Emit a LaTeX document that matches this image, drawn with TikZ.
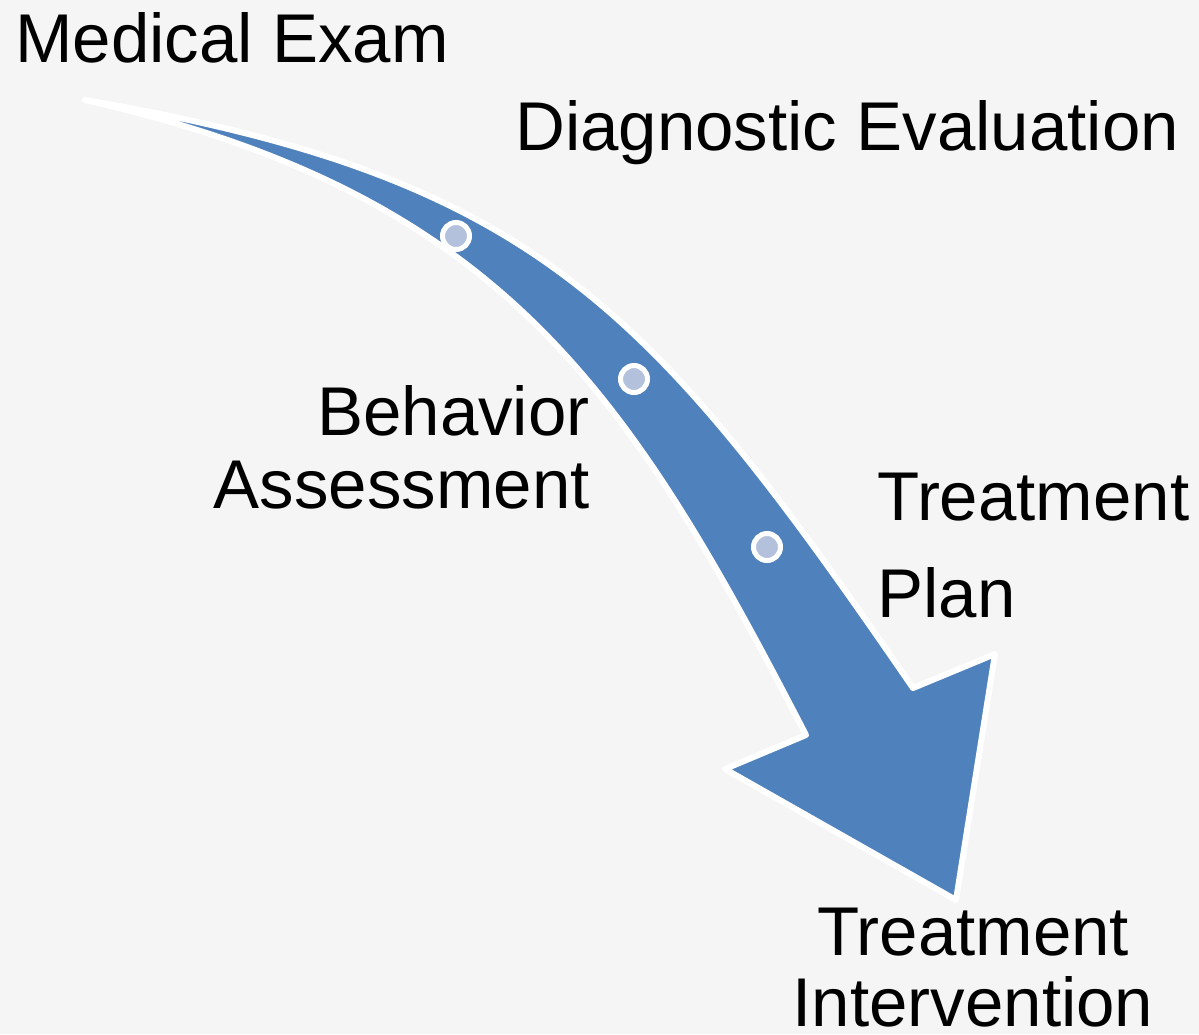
\documentclass[tikz,border=0pt]{standalone}
\usepackage{fontspec}
\setmainfont{Liberation Sans}
\definecolor{bgcol}{HTML}{F5F5F5}
\definecolor{arrowblue}{HTML}{4F81BD}
\definecolor{dotfill}{HTML}{B3C1DC}

\begin{document}
\begin{tikzpicture}[x=0.5pt, y=-0.5pt,
  label/.style={inner sep=0pt, font=\fontsize{34.5}{36.5}\selectfont},
  body/.style={fill=arrowblue, draw=white, line width=3pt, line join=round},
  dot/.style={circle, inner sep=0pt, minimum size=13.5pt, fill=dotfill, draw=white, line width=2.5pt}]

  % Background
  \path[use as bounding box, fill=bgcol] (0,0) rectangle (1199,1034);

  % Arrow corners
  \coordinate (tail) at (85,100);
  \coordinate (R1) at (913,688);
  \coordinate (R2) at (995,654);
  \coordinate (tip) at (956,900);
  \coordinate (L2) at (725,769);
  \coordinate (L1) at (806,735);

  % Curved arrow
  \path[body] (tail) .. controls (535,177) and (650,305) .. (R1) -- (R2) -- (tip)
    -- (L2) -- (L1) .. controls (630,395) and (505,195) .. (tail) -- cycle;

  % Dots on the arrow
  \node[dot] (D1) at (456,236) {};
  \node[dot] (D2) at (634,379) {};
  \node[dot] (D3) at (767,547) {};

  % Labels
  \node[label, anchor=base west] (exam) at (15,62) {Medical Exam};
  \node[label, anchor=base west] (diag) at (515,150) {Diagnostic Evaluation};
  \node[label, anchor=base east] (beh1) at (590,435) {Behavior};
  \node[label, anchor=base east] (beh2) at (590,508) {Assessment};
  \node[label, anchor=base west] (plan1) at (877,520) {Treatment};
  \node[label, anchor=base west] (plan2) at (877,617) {Plan};
  \node[label, anchor=base] (int1) at (973,955) {Treatment};
  \node[label, anchor=base] (int2) at (973,1026) {Intervention};

\end{tikzpicture}
\end{document}
